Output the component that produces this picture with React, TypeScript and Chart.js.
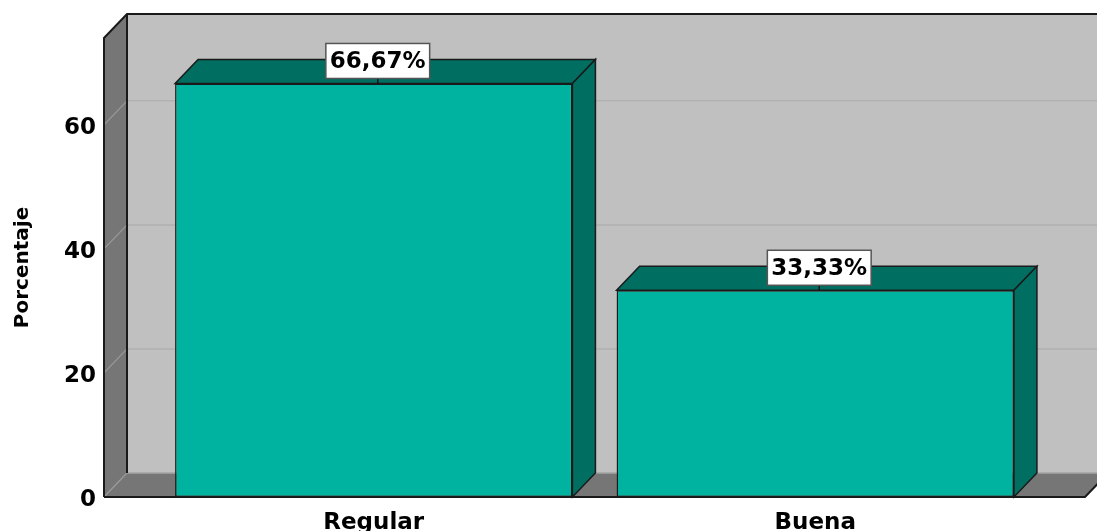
import { useEffect, useRef } from 'react';
import { Chart, registerables } from 'chart.js';

Chart.register(...registerables);

// ---- data ----
const categories = ['Regular', 'Buena'];
const percentages = [66.67, 33.33];
const yTickValues = [0, 20, 40, 60];
const yAxisMax = 74;
const yAxisTitle = 'Porcentaje';

// ---- style ----
const FONT_FAMILY = '"DejaVu Sans", "Liberation Sans", sans-serif';
const DX = 23;
const DY = 24;
const WALL_MARGIN = 49;
const COLORS = {
  backWall: '#c0c0c0',
  sideWall: '#767676',
  barFront: '#00b3a0',
  barDark: '#006e61',
  edge: '#1a1a1a',
  grid: '#b1b1b1',
  gridSide: '#9a9a9a',
};

type Pt = [number, number];

function polygon(ctx: CanvasRenderingContext2D, pts: Pt[], fill: string, stroke?: string, lw = 1.5) {
  ctx.beginPath();
  ctx.moveTo(pts[0][0], pts[0][1]);
  for (let i = 1; i < pts.length; i++) ctx.lineTo(pts[i][0], pts[i][1]);
  ctx.closePath();
  ctx.fillStyle = fill;
  ctx.fill();
  if (stroke) {
    ctx.strokeStyle = stroke;
    ctx.lineWidth = lw;
    ctx.lineJoin = 'miter';
    ctx.stroke();
  }
}

function line(ctx: CanvasRenderingContext2D, pts: Pt[], color: string, lw = 1.5) {
  ctx.beginPath();
  ctx.moveTo(pts[0][0], pts[0][1]);
  for (let i = 1; i < pts.length; i++) ctx.lineTo(pts[i][0], pts[i][1]);
  ctx.strokeStyle = color;
  ctx.lineWidth = lw;
  ctx.stroke();
}

const formatPct = (v: number) => v.toFixed(2).replace('.', ',') + '%';

const box3d = {
  id: 'box3d',
  beforeDatasetsDraw(chart: any) {
    const { ctx, chartArea } = chart;
    const L = chartArea.left - WALL_MARGIN;
    const R = chartArea.right + WALL_MARGIN;
    const T = chartArea.top;
    const B = chartArea.bottom;
    const ys = chart.scales.y;
    const W = chart.width;
    ctx.save();
    // back wall
    polygon(ctx, [[L + DX, T - DY], [R + DX, T - DY], [R + DX, B - DY], [L + DX, B - DY]], COLORS.backWall);
    // left wall
    polygon(ctx, [[L, T], [L + DX, T - DY], [L + DX, B - DY], [L, B]], COLORS.sideWall);
    // floor
    polygon(ctx, [[L, B], [L + DX, B - DY], [R + DX, B - DY], [R, B]], COLORS.sideWall);
    // grid lines
    ys.ticks.forEach((t: any) => {
      if (t.value <= 0) return;
      const py = ys.getPixelForValue(t.value);
      line(ctx, [[L + DX, py - DY], [R + DX, py - DY]], COLORS.grid, 1.5);
      line(ctx, [[L, py], [L + DX, py - DY]], COLORS.gridSide, 1.2);
    });
    // light corner lines
    line(ctx, [[L + DX, B - DY], [R + DX, B - DY]], '#a6a6a6', 1.5);
    line(ctx, [[L, B], [L + DX, B - DY]], '#9a9a9a', 1.2);
    // dark edges
    line(ctx, [[L, B], [L, T], [L + DX, T - DY], [W + 5, T - DY]], COLORS.edge, 2);
    line(ctx, [[L + DX, T - DY], [L + DX, B - DY]], COLORS.edge, 2);
    line(ctx, [[L, B], [R, B], [R + DX, B - DY]], COLORS.edge, 2);
    ctx.restore();
  },
  afterDatasetsDraw(chart: any) {
    const { ctx } = chart;
    const meta = chart.getDatasetMeta(0);
    ctx.save();
    meta.data.forEach((el: any) => {
      const { x, y, base, width } = el.getProps(['x', 'y', 'base', 'width'], true);
      const x1 = x - width / 2;
      const x2 = x + width / 2;
      polygon(ctx, [[x1, y], [x1 + DX, y - DY], [x2 + DX, y - DY], [x2, y]], COLORS.barDark, COLORS.edge, 1.5);
      polygon(ctx, [[x2, y], [x2 + DX, y - DY], [x2 + DX, base - DY], [x2, base]], COLORS.barDark, COLORS.edge, 1.5);
    });
    // value labels
    ctx.font = `bold 23px ${FONT_FAMILY}`;
    ctx.textAlign = 'center';
    ctx.textBaseline = 'middle';
    meta.data.forEach((el: any, i: number) => {
      const { x, y } = el.getProps(['x', 'y'], true);
      const text = formatPct(percentages[i]);
      const tw = ctx.measureText(text).width;
      const bw = tw + 8;
      const bh = 35;
      const cx = x + 4;
      const by = y - 5 - bh;
      line(ctx, [[cx, by + bh], [cx, y]], '#111', 1.5);
      ctx.fillStyle = '#ffffff';
      ctx.fillRect(cx - bw / 2, by, bw, bh);
      ctx.strokeStyle = '#555555';
      ctx.lineWidth = 1.5;
      ctx.strokeRect(cx - bw / 2, by, bw, bh);
      ctx.fillStyle = '#000000';
      ctx.fillText(text, cx, by + bh / 2 + 1);
    });
    ctx.restore();
  },
};

export default function App() {
  const canvasRef = useRef<HTMLCanvasElement | null>(null);

  useEffect(() => {
    const canvas = canvasRef.current;
    if (!canvas) return;
    const chart = new Chart(canvas, {
      type: 'bar',
      data: {
        labels: categories,
        datasets: [
          {
            data: percentages,
            backgroundColor: COLORS.barFront,
            borderColor: COLORS.edge,
            borderWidth: 1.5,
            borderSkipped: false,
            barPercentage: 0.9,
            categoryPercentage: 1,
          },
        ],
      },
      options: {
        responsive: false,
        animation: false,
        devicePixelRatio: 1,
        layout: { padding: { top: 38, right: 61, left: 0, bottom: 0 } },
        plugins: {
          legend: { display: false },
          tooltip: { enabled: false },
        },
        scales: {
          x: {
            type: 'category',
            offset: true,
            grid: { display: false, drawTicks: false },
            border: { display: false },
            afterFit: (scale: any) => {
              scale.height = 34;
            },
            ticks: {
              padding: 12,
              color: '#000',
              font: { family: FONT_FAMILY, size: 23, weight: 'bold' },
              maxRotation: 0,
              autoSkip: false,
            },
          },
          y: {
            min: 0,
            max: yAxisMax,
            grid: { display: false, drawTicks: false },
            border: { display: false },
            afterBuildTicks: (scale: any) => {
              scale.ticks = yTickValues.map((v) => ({ value: v }));
            },
            afterFit: (scale: any) => {
              scale.width = 153;
              scale.paddingTop = 10;
              scale.paddingBottom = 10;
            },
            ticks: {
              padding: 57,
              labelOffset: 3,
              color: '#000',
              font: { family: FONT_FAMILY, size: 23, weight: 'bold' },
            },
            title: {
              display: true,
              text: yAxisTitle,
              color: '#000',
              font: { family: FONT_FAMILY, size: 20, weight: 'bold' },
              padding: { top: 11, bottom: 0 },
            },
          },
        },
      },
      plugins: [box3d],
    } as any);
    return () => chart.destroy();
  }, []);

  return (
    <div style={{ position: 'absolute', left: 0, top: 0, width: 1097, height: 531, background: '#ffffff' }}>
      <canvas ref={canvasRef} width={1097} height={531} style={{ display: 'block' }} />
    </div>
  );
}
